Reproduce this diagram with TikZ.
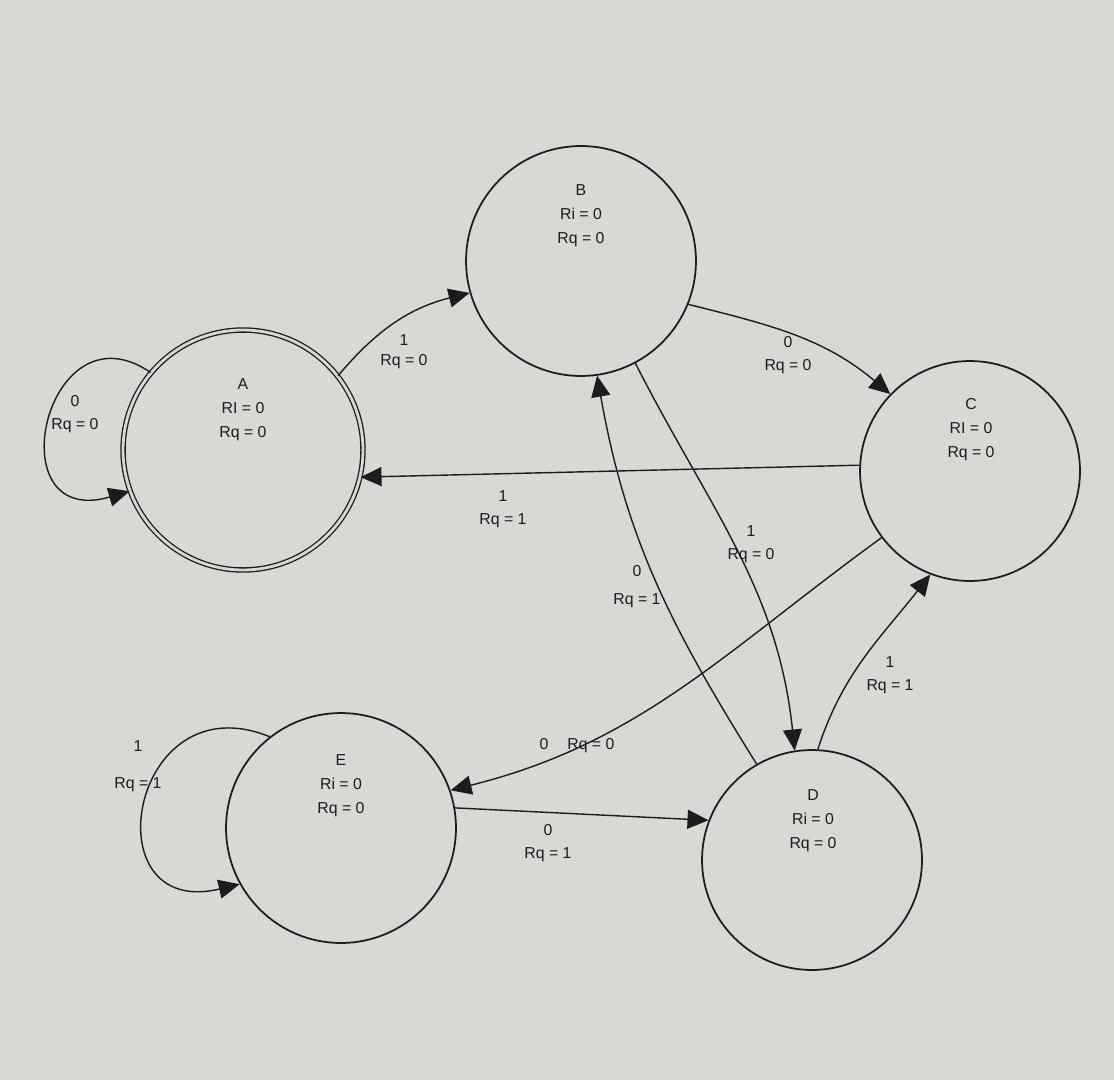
\documentclass[tikz,border=0pt]{standalone}
\usepackage{fontspec}
\setmainfont{Liberation Sans}
\usetikzlibrary{arrows.meta}
\definecolor{paper}{RGB}{216,216,213}
\definecolor{ink}{RGB}{28,28,28}

\begin{document}
\begin{tikzpicture}[x=0.02cm, y=0.02cm,
    state/.style={circle, draw=ink, line width=1pt, inner sep=0pt},
    accept/.style={state, double=paper, double distance=1.6pt, line width=0.75pt},
    stext/.style={font=\fontsize{9}{13.6}\selectfont, text=ink, align=center},
    elabel/.style={font=\fontsize{9}{13}\selectfont, text=ink, align=center},
    trans/.style={-{Triangle[length=4.2mm, width=3.8mm]}, draw=ink, line width=0.8pt}
  ]
  \useasboundingbox[fill=paper] (0,0) rectangle (1114,1080);

  % States
  \node[accept, minimum size=4.8cm] (A) at (243,630) {};
  \node[state, minimum size=4.6cm] (B) at (581,819) {};
  \node[state, minimum size=4.4cm] (C) at (970,609) {};
  \node[state, minimum size=4.4cm] (D) at (812,220) {};
  \node[state, minimum size=4.6cm] (E) at (341,252) {};

  \node[stext] (Atxt) at (243,670) {A\\RI = 0\\Rq = 0};
  \node[stext] (Btxt) at (581,864) {B\\Ri = 0\\Rq = 0};
  \node[stext] (Ctxt) at (971,650) {C\\RI = 0\\Rq = 0};
  \node[stext] (Dtxt) at (813,259) {D\\Ri = 0\\Rq = 0};
  \node[stext] (Etxt) at (341,294) {E\\Ri = 0\\Rq = 0};

  % Transitions
  \draw[trans] (A.140) .. controls +(-105,72) and +(-135,-39) .. (A.200);
  \draw[trans] (A.38) to[out=50, in=194] (B.196);
  \draw[trans] (B.-22) to[out=-14, in=140] (C.136);
  \draw[trans] (C.177) -- (A.-13);
  \draw[trans] (B.-62) to[out=-63, in=96] (D.99);
  \draw[trans] (D.120) to[out=122, in=-80] (B.-82);
  \draw[trans] (C.217) to[out=216, in=14] (E.19);
  \draw[trans] (E.10) -- (D.159);
  \draw[trans] (D.87) to[out=72, in=232] (C.249);
  \draw[trans] (E.128) .. controls +(-140,57) and +(-150,-36) .. (E.209);

  % Transition labels
  \node[elabel] (lAA) at (75,666) {0\\Rq = 0};
  \node[elabel, font=\fontsize{9}{11.5}\selectfont] (lAB) at (404,728) {1\\Rq = 0};
  \node[elabel] (lBC) at (788,725) {0\\Rq = 0};
  \node[elabel] (lCA) at (503,571) {1\\Rq = 1};
  \node[elabel] (lBD) at (751,536) {1\\Rq = 0};
  \node[elabel] (lDB) at (637,493) {0\\[3pt]Rq = 1};
  \node[elabel] (lCE) at (577,334) {0\hspace{1.2em}Rq = 0};
  \node[elabel] (lED) at (548,237) {0\\Rq = 1};
  \node[elabel] (lDC) at (890,405) {1\\Rq = 1};
  \node[elabel] (lEE) at (138,314) {1\\[8pt]Rq = 1};
\end{tikzpicture}
\end{document}
